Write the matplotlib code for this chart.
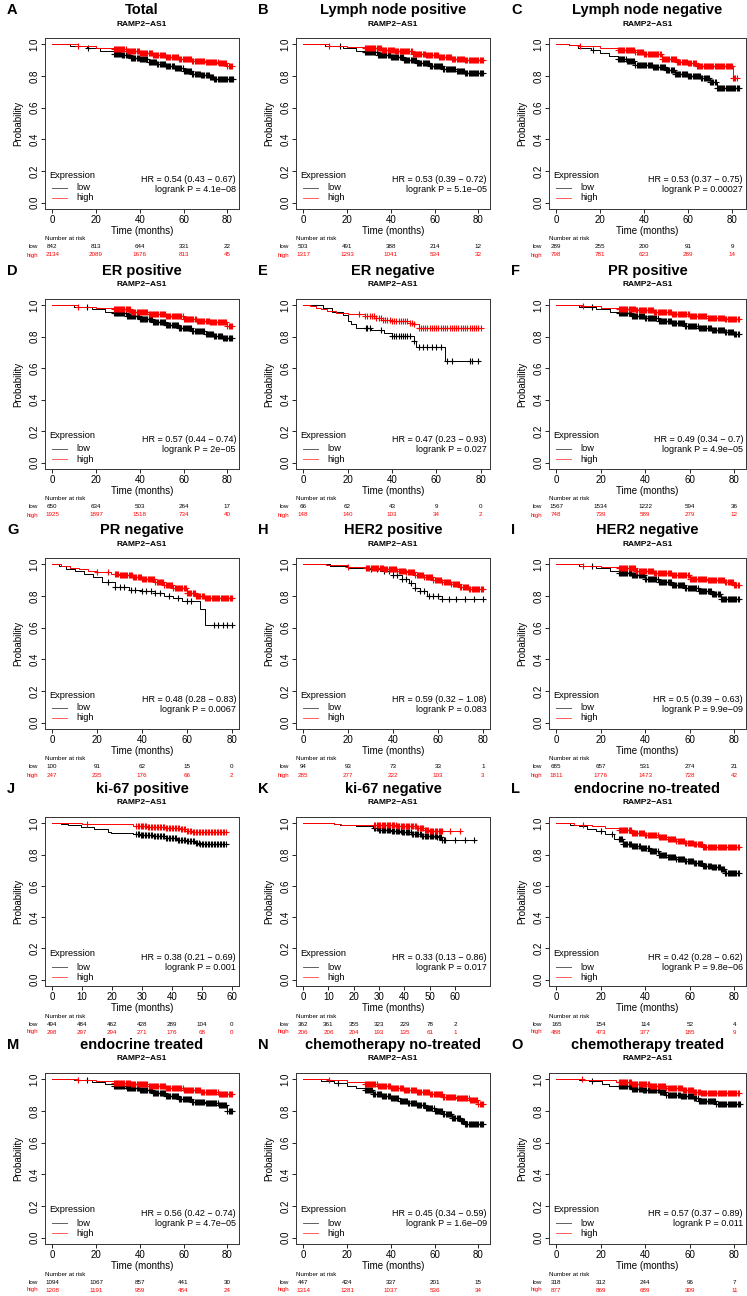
import numpy as np
import matplotlib
matplotlib.use("Agg")
import matplotlib.pyplot as plt

W, H = 747, 1296
plt.rcParams['font.family'] = ['Liberation Sans', 'DejaVu Sans']

letters = list("ABCDEFGHIJKLMNO")
titles = ["Total", "Lymph node positive", "Lymph node negative",
          "ER positive", "ER negative", "PR positive",
          "PR negative", "HER2 positive", "HER2 negative",
          "ki-67 positive", "ki-67 negative", "endocrine no-treated",
          "endocrine treated", "chemotherapy no-treated", "chemotherapy treated"]
hr_text = ["0.54 (0.43 \u2212 0.67)", "0.53 (0.39 \u2212 0.72)", "0.53 (0.37 \u2212 0.75)",
           "0.57 (0.44 \u2212 0.74)", "0.47 (0.23 \u2212 0.93)", "0.49 (0.34 \u2212 0.7)",
           "0.48 (0.28 \u2212 0.83)", "0.59 (0.32 \u2212 1.08)", "0.5 (0.39 \u2212 0.63)",
           "0.38 (0.21 \u2212 0.69)", "0.33 (0.13 \u2212 0.86)", "0.42 (0.28 \u2212 0.62)",
           "0.56 (0.42 \u2212 0.74)", "0.45 (0.34 \u2212 0.59)", "0.57 (0.37 \u2212 0.89)"]
p_text = ["4.1e\u221208", "5.1e\u221205", "0.00027",
          "2e\u221205", "0.027", "4.9e\u221205",
          "0.0067", "0.083", "9.9e\u221209",
          "0.001", "0.017", "9.8e\u221206",
          "4.7e\u221205", "1.6e\u221209", "0.011"]

# follow-up length (months) used for the x range of each panel
t_max = [82, 82, 83, 82, 81, 82, 80, 80, 82, 60, 71, 82, 82, 82, 82]

ticks_80 = [0, 20, 40, 60, 80]
ticks_60 = [0, 10, 20, 30, 40, 50, 60]
risk_ticks = [ticks_80] * 9 + [ticks_60, ticks_60] + [ticks_80] * 4

risk_low = [[842, 813, 644, 331, 22], [503, 491, 388, 214, 12], [289, 255, 200, 91, 9],
            [650, 634, 503, 264, 17], [66, 62, 43, 9, 0], [1567, 1534, 1222, 594, 36],
            [100, 91, 62, 15, 0], [94, 93, 73, 33, 1], [685, 657, 531, 274, 21],
            [494, 484, 462, 428, 289, 104, 0], [362, 361, 355, 323, 229, 78, 2],
            [165, 154, 114, 52, 4],
            [1094, 1067, 857, 441, 30], [447, 424, 337, 201, 15], [318, 312, 244, 96, 7]]
risk_high = [[2134, 2089, 1676, 813, 45], [1317, 1293, 1041, 534, 32], [798, 781, 623, 289, 14],
             [1925, 1897, 1518, 734, 40], [148, 140, 103, 34, 2], [748, 739, 589, 279, 12],
             [247, 235, 176, 66, 2], [285, 277, 222, 103, 3], [1811, 1776, 1473, 728, 42],
             [298, 297, 294, 271, 176, 68, 0], [206, 206, 204, 193, 135, 61, 1],
             [488, 473, 377, 185, 9],
             [1208, 1191, 959, 484, 24], [1314, 1281, 1037, 536, 34], [877, 869, 689, 309, 11]]

# Kaplan-Meier step knots (time, survival)
low_t = [
    [0, 8, 16, 22, 28, 32, 36, 40, 44, 48, 52, 56, 60, 64, 68, 72, 74, 82.5],
    [0, 10, 18, 24, 28, 34, 40, 46, 52, 58, 64, 70, 74, 82],
    [0, 6, 10, 16, 20, 24, 28, 32, 36, 44, 50, 54, 60, 66, 70, 73, 83],
    [0, 10, 18, 24, 28, 34, 40, 46, 52, 58, 64, 70, 74, 78, 82],
    [0, 9, 13, 18, 20, 21.5, 24, 30.5, 36.6, 40, 50, 51, 64, 79],
    [0, 10, 18, 24, 28, 34, 40, 46, 52, 58, 64, 70, 76, 80, 82],
    [0, 3, 6, 10, 14, 18, 22, 28, 34, 40, 46, 50, 54, 58, 66, 68, 80],
    [0, 12, 20, 28, 34, 40, 44, 47, 50, 52, 55, 62, 80],
    [0, 10, 18, 24, 28, 34, 40, 46, 52, 58, 64, 70, 74, 82],
    [0, 3, 5.3, 9.7, 14, 18.5, 19.6, 27, 29.5, 34, 38, 41.6, 45, 47.7, 49.3, 58],
    [0, 12, 14.7, 21, 27.5, 30, 35, 39, 42.8, 46.6, 53, 55, 67.7],
    [0, 6, 10, 14, 18, 22, 26, 30, 34, 38, 42, 46, 50, 54, 58, 62, 66, 70, 74, 76, 82],
    [0, 10, 18, 24, 28, 34, 40, 46, 52, 58, 64, 70, 76, 80, 82],
    [0, 8, 14, 20, 24, 28, 32, 36, 40, 44, 48, 52, 56, 60, 64, 68, 72, 74, 82],
    [0, 10, 14.5, 20.6, 23.6, 34, 39, 46.5, 49.5, 55.6, 61.7, 64, 68, 72, 82.5],
]
low_s = [
    [1, 0.99, 0.975, 0.96, 0.94, 0.93, 0.915, 0.905, 0.89, 0.875, 0.862, 0.85, 0.83, 0.815, 0.805, 0.795, 0.78, 0.78],
    [1, 0.99, 0.975, 0.96, 0.95, 0.935, 0.92, 0.9, 0.885, 0.865, 0.845, 0.83, 0.82, 0.82],
    [1, 0.995, 0.975, 0.964, 0.943, 0.925, 0.91, 0.896, 0.87, 0.858, 0.836, 0.815, 0.8, 0.79, 0.76, 0.726, 0.726],
    [1, 0.99, 0.975, 0.96, 0.95, 0.93, 0.912, 0.895, 0.875, 0.855, 0.835, 0.82, 0.805, 0.795, 0.795],
    [1, 0.985, 0.955, 0.94, 0.9, 0.88, 0.858, 0.84, 0.826, 0.805, 0.773, 0.735, 0.645, 0.645],
    [1, 0.99, 0.975, 0.96, 0.95, 0.935, 0.918, 0.9, 0.885, 0.87, 0.855, 0.84, 0.83, 0.82, 0.82],
    [1, 0.99, 0.97, 0.96, 0.94, 0.92, 0.89, 0.86, 0.84, 0.83, 0.82, 0.8, 0.79, 0.77, 0.72, 0.62, 0.62],
    [1, 0.99, 0.98, 0.97, 0.955, 0.935, 0.91, 0.88, 0.85, 0.83, 0.8, 0.78, 0.78],
    [1, 0.99, 0.975, 0.96, 0.948, 0.93, 0.91, 0.89, 0.87, 0.85, 0.83, 0.81, 0.78, 0.78],
    [1, 0.997, 0.99, 0.979, 0.964, 0.947, 0.936, 0.932, 0.925, 0.917, 0.906, 0.896, 0.885, 0.874, 0.866, 0.866],
    [1, 0.995, 0.989, 0.981, 0.97, 0.96, 0.953, 0.942, 0.932, 0.921, 0.91, 0.896, 0.896],
    [1, 0.99, 0.98, 0.965, 0.95, 0.93, 0.9, 0.87, 0.855, 0.84, 0.825, 0.8, 0.785, 0.77, 0.76, 0.745, 0.73, 0.72, 0.71, 0.68, 0.68],
    [1, 0.995, 0.985, 0.97, 0.96, 0.945, 0.93, 0.915, 0.895, 0.875, 0.86, 0.85, 0.84, 0.8, 0.8],
    [1, 0.99, 0.975, 0.96, 0.945, 0.93, 0.91, 0.895, 0.88, 0.865, 0.85, 0.835, 0.82, 0.8, 0.78, 0.755, 0.735, 0.72, 0.72],
    [1, 0.995, 0.989, 0.968, 0.957, 0.94, 0.93, 0.919, 0.904, 0.894, 0.883, 0.866, 0.862, 0.847, 0.847],
]
high_t = [
    [0, 12, 20, 28, 34, 40, 46, 52, 58, 64, 70, 76, 80, 82],
    [0, 12, 20, 28, 36, 42, 50, 56, 62, 68, 74, 82],
    [0, 6, 11, 20, 28, 36, 40, 48, 55, 60, 64, 80.5, 82],
    [0, 12, 20, 28, 36, 44, 52, 60, 66, 72, 80, 82],
    [0, 3, 6, 8, 10.7, 15, 20, 28, 33, 36, 40, 48, 50, 52, 80.5],
    [0, 12, 20, 28, 36, 44, 52, 60, 68, 76, 82],
    [0, 4, 8, 12, 16, 20, 26, 30, 36, 40, 46, 50, 54, 60, 64, 68, 80],
    [0, 10, 20, 28, 36, 42, 46, 50, 54, 58, 62, 66, 70, 74, 80],
    [0, 12, 20, 28, 36, 44, 52, 60, 68, 76, 80, 82],
    [0, 10, 11, 27, 31.7, 38, 42.7, 45, 46.6, 58],
    [0, 12, 15, 37, 45, 48, 50, 62],
    [0, 8, 16, 22, 28, 34, 40, 46, 50, 54, 58, 62, 66, 70, 82],
    [0, 12, 20, 28, 36, 44, 52, 60, 68, 76, 82],
    [0, 12, 20, 28, 34, 40, 46, 52, 58, 64, 70, 76, 80, 82],
    [0, 12, 19, 26.7, 34, 42, 49.5, 57, 61.7, 64.8, 82],
]
high_s = [
    [1, 0.99, 0.98, 0.972, 0.96, 0.948, 0.935, 0.922, 0.905, 0.895, 0.888, 0.883, 0.862, 0.862],
    [1, 0.99, 0.985, 0.978, 0.965, 0.955, 0.94, 0.93, 0.918, 0.908, 0.9, 0.9],
    [1, 0.995, 0.99, 0.98, 0.964, 0.95, 0.94, 0.91, 0.89, 0.88, 0.865, 0.79, 0.79],
    [1, 0.99, 0.982, 0.975, 0.96, 0.945, 0.93, 0.912, 0.9, 0.893, 0.87, 0.87],
    [1, 0.993, 0.986, 0.975, 0.964, 0.953, 0.945, 0.932, 0.918, 0.907, 0.9, 0.89, 0.88, 0.858, 0.858],
    [1, 0.995, 0.985, 0.978, 0.968, 0.955, 0.943, 0.93, 0.92, 0.915, 0.915],
    [1, 0.99, 0.98, 0.97, 0.96, 0.95, 0.94, 0.93, 0.92, 0.91, 0.89, 0.87, 0.85, 0.82, 0.8, 0.785, 0.785],
    [1, 0.995, 0.985, 0.98, 0.97, 0.96, 0.95, 0.93, 0.92, 0.9, 0.89, 0.875, 0.86, 0.845, 0.845],
    [1, 0.99, 0.985, 0.975, 0.96, 0.948, 0.93, 0.91, 0.898, 0.89, 0.87, 0.87],
    [1, 0.997, 0.994, 0.985, 0.979, 0.968, 0.962, 0.953, 0.942, 0.942],
    [1, 0.995, 0.989, 0.98, 0.97, 0.96, 0.953, 0.953],
    [1, 0.99, 0.98, 0.97, 0.955, 0.94, 0.925, 0.91, 0.9, 0.885, 0.875, 0.865, 0.85, 0.848, 0.848],
    [1, 0.995, 0.99, 0.98, 0.97, 0.958, 0.945, 0.93, 0.918, 0.908, 0.905],
    [1, 0.995, 0.985, 0.97, 0.96, 0.948, 0.935, 0.92, 0.905, 0.89, 0.88, 0.872, 0.845, 0.845],
    [1, 0.997, 0.994, 0.985, 0.972, 0.957, 0.943, 0.93, 0.921, 0.915, 0.915],
]

# months at which censored patients pile up (follow-up visits every half month)
followup = [28, 28.5, 29, 29.5, 30, 30.5, 31, 31.5, 32, 32.5, 33, 33.5, 34, 34.5,
            35, 35.5, 36, 36.5, 37, 37.5, 38, 38.5, 39, 39.5, 40, 40.5, 41, 41.5,
            42, 42.5, 43, 43.5, 44, 44.5, 45, 45.5, 46, 46.5, 47, 47.5, 48, 48.5,
            49, 49.5, 50, 50.5, 51, 51.5, 52, 52.5, 53, 53.5, 54, 54.5, 55, 55.5,
            56, 56.5, 57, 57.5, 58, 58.5, 59, 59.5, 60, 60.5, 61, 61.5, 62, 62.5,
            63, 63.5, 64, 64.5, 65, 65.5, 66, 66.5, 67, 67.5, 68, 68.5, 69, 69.5,
            70, 70.5, 71, 71.5, 72, 72.5, 73, 73.5, 74, 74.5, 75, 75.5, 76, 76.5,
            77, 77.5, 78, 78.5, 79, 79.5, 80, 80.5, 81, 81.5, 82, 82.5, 83]


def band(start, end):
    return [m for m in followup if start <= m <= end]


low_cens = [
    [16.5] + band(28, 82.5), [17] + band(28, 82), [16.5] + band(28, 83),
    [16] + band(28, 82), [28.5, 29, 30, 35, 40, 41, 42, 43, 44, 45, 46, 47, 48, 50, 52, 54, 56, 58, 60, 62, 65, 67, 75, 76, 79],
    [16] + band(28, 82),
    [25, 28, 30, 32, 35, 37, 40, 42, 44, 46, 48, 52, 56, 60, 62, 72, 74, 76, 78, 80],
    [30, 33, 36, 38, 40, 42, 44, 46, 48, 50, 52, 54, 56, 58, 60, 62, 65, 68, 72, 76, 80],
    [16] + band(28, 82),
    band(28, 58), band(28, 56) + [60, 64, 67.7], [20, 25] + band(28, 82),
    [16] + band(28, 82), [16] + band(28, 82), [16] + band(28, 82.5),
]
high_cens = [
    [12] + band(28, 82), [12] + band(28, 82), [11] + band(28, 82),
    [12] + band(28, 82), [25, 28, 29, 30, 31, 32, 33, 34, 35, 36, 37, 38, 39, 40, 41, 42, 43, 44, 45, 46, 47, 48, 49, 50,
                          52, 53, 54, 55, 56, 57, 58, 59, 60, 61, 62, 63, 64, 65, 66, 67, 68, 69, 70, 71, 72, 73, 74,
                          75, 76, 77, 78, 79, 80], [12] + band(28, 82),
    [20, 25] + band(28, 80), [20] + band(28, 80), [12] + band(28, 82),
    [11.5] + band(28, 58), band(28, 55) + [58, 62], [12] + band(28, 82),
    [12] + band(28, 82), [12] + band(28, 82), [11.5] + band(28, 82),
]

# panel boxes in pixels
col_left = [45, 296, 549]
col_width = [194, 194, 197]
row_top = [38, 299, 558, 817, 1073]
row_height = [171, 170, 171, 169, 171]


def fx(x):
    return x / W


def fy(y):
    return 1 - y / H


def step_value(ts, ss, when):
    idx = np.searchsorted(ts, when, side='right') - 1
    return np.asarray(ss)[idx]


fig = plt.figure(figsize=(W / 100, H / 100), dpi=100)

for i in range(15):
    r, c = divmod(i, 3)
    l, w = col_left[c], col_width[c]
    t, h = row_top[r], row_height[r]
    b = t + h
    rt = l + w
    ax = fig.add_axes([fx(l), fy(b), w / W, h / H])
    x0, x1 = -0.04 * t_max[i], 1.04 * t_max[i]
    ax.set_xlim(x0, x1)
    ax.set_ylim(-0.04, 1.04)

    for ts, ss, cens, col in ((low_t[i], low_s[i], low_cens[i], 'black'),
                              (high_t[i], high_s[i], high_cens[i], '#ff0000')):
        ax.step(ts, ss, where='post', color=col, lw=0.7)
        cy = step_value(ts, ss, cens)
        ax.plot(cens, cy, ls='none', marker='+', color=col, ms=4, mew=0.8)

    ax.set_xticks(risk_ticks[i])
    ax.set_yticks([0, 0.2, 0.4, 0.6, 0.8, 1.0])
    ax.set_yticklabels(['0.0', '0.2', '0.4', '0.6', '0.8', '1.0'], rotation=90, va='center')
    ax.tick_params(labelsize=7, length=2.8, width=0.6, pad=1.2)
    for sp in ax.spines.values():
        sp.set_linewidth(0.7)
        sp.set_color('#333333')

    cx = l + w / 2
    fig.text(fx(l - 38), fy(t - 28), letters[i], fontsize=10.5, fontweight='bold', va='center', ha='left')
    fig.text(fx(cx), fy(t - 28), titles[i], fontsize=10.5, fontweight='bold', va='center', ha='center')
    fig.text(fx(cx), fy(t - 14), "RAMP2\u2212AS1", fontsize=6, fontweight='bold', va='center', ha='center')
    fig.text(fx(l - 27), fy((t + b) / 2), "Probability", fontsize=7, rotation=90, va='center', ha='center')
    fig.text(fx(cx), fy(b + 22), "Time (months)", fontsize=7, va='center', ha='center')

    # legend and statistics
    fig.text(fx(l + 4), fy(t + 137), "Expression", fontsize=6.7, va='center', ha='left')
    fig.lines.append(plt.Line2D([fx(l + 7), fx(l + 22)], [fy(t + 150)] * 2, color='#444444', lw=0.6,
                                transform=fig.transFigure))
    fig.lines.append(plt.Line2D([fx(l + 7), fx(l + 22)], [fy(t + 160)] * 2, color='#ff4444', lw=0.6,
                                transform=fig.transFigure))
    fig.text(fx(l + 31), fy(t + 150), "low", fontsize=6.7, va='center', ha='left')
    fig.text(fx(l + 31), fy(t + 160), "high", fontsize=6.7, va='center', ha='left')
    fig.text(fx(rt - 3), fy(t + 141), "HR = " + hr_text[i], fontsize=6.5, va='center', ha='right')
    fig.text(fx(rt - 3), fy(t + 151), "logrank P = " + p_text[i], fontsize=6.5, va='center', ha='right')

    # number at risk table
    fig.text(fx(l), fy(b + 30), "Number at risk", fontsize=4.5, va='center', ha='left')
    fig.text(fx(l - 7), fy(b + 38), "low", fontsize=4.5, va='center', ha='right')
    fig.text(fx(l - 7), fy(b + 46), "high", fontsize=4.5, va='center', ha='right', color='#ff0000')
    for tk, nl, nh in zip(risk_ticks[i], risk_low[i], risk_high[i]):
        px = l + (tk - x0) / (x1 - x0) * w
        fig.text(fx(px), fy(b + 38), str(nl), fontsize=4.5, va='center', ha='center')
        fig.text(fx(px), fy(b + 46), str(nh), fontsize=4.5, va='center', ha='center', color='#ff0000')

fig.savefig("out.png", dpi=100)
